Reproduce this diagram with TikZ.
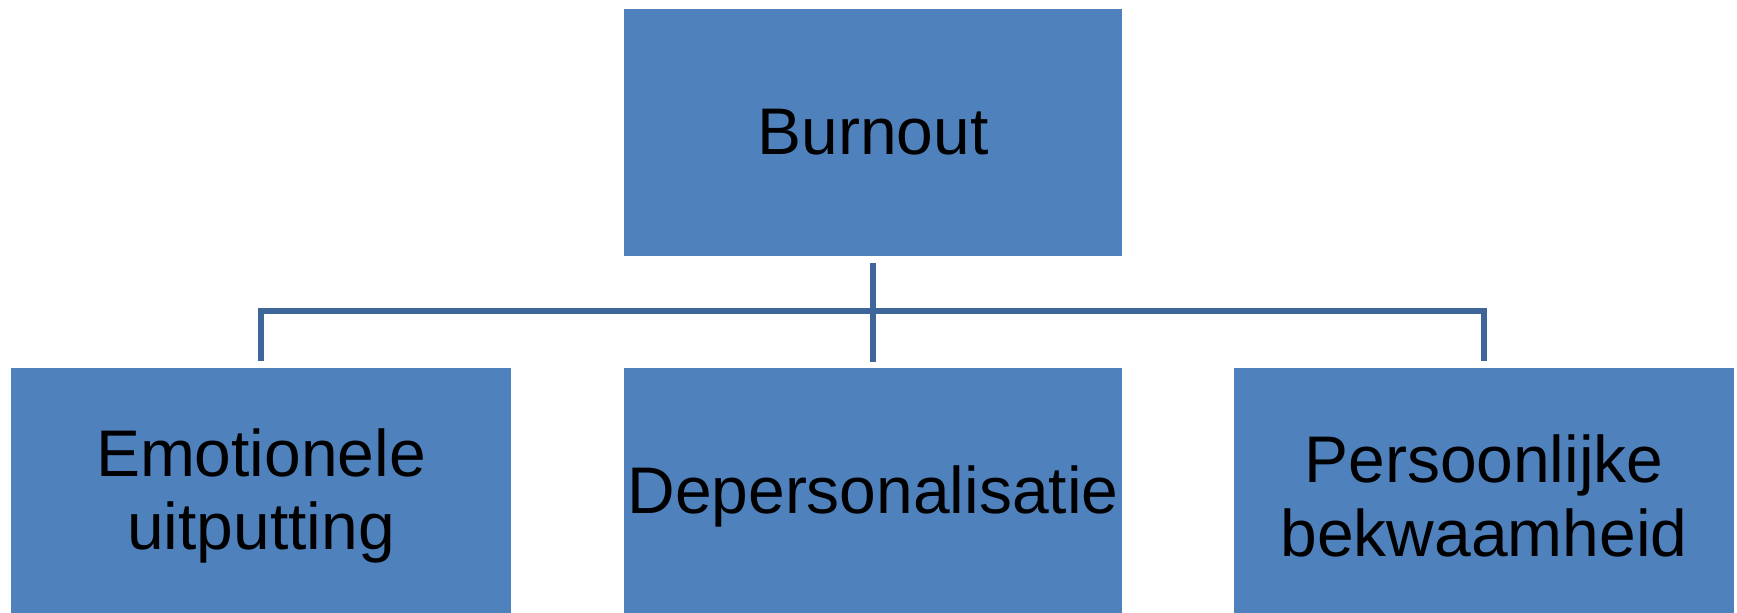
\documentclass[tikz,border=0pt]{standalone}
\usepackage{fontspec}
\setmainfont{Liberation Sans}
\usetikzlibrary{calc}
\definecolor{boxblue}{HTML}{4F81BD}
\definecolor{lineblue}{HTML}{3F6698}
\begin{document}
\begin{tikzpicture}[x=0.01cm,y=-0.01cm,
  box/.style={rectangle,fill=boxblue,inner sep=0pt,align=center,
    font=\fontsize{18.75}{21}\selectfont,text=black},
  conn/.style={draw=lineblue,line width=1.45pt,line join=miter}]
\useasboundingbox (0,0) rectangle (1737,612);
\node[box,minimum width=4.98cm,minimum height=2.47cm] (top) at (873,132.5) {Burnout};
\node[box,minimum width=5.0cm,minimum height=2.56cm] (left) at (261,496) {Emotionele\\uitputting};
\node[box,minimum width=4.98cm,minimum height=2.56cm] (mid) at (873,496) {Depersonalisatie};
\node[box,minimum width=5.0cm,minimum height=2.56cm] (right) at (1484,496) {Persoonlijke\\bekwaamheid};
\coordinate (bus) at (873,311);
\draw[conn] ($(top.south)+(0,6)$) -- ($(mid.north)+(0,-5)$);
\draw[conn] ($(left.north)+(0,-6)$) |- (bus) -| ($(right.north)+(0,-6)$);
\end{tikzpicture}
\end{document}
